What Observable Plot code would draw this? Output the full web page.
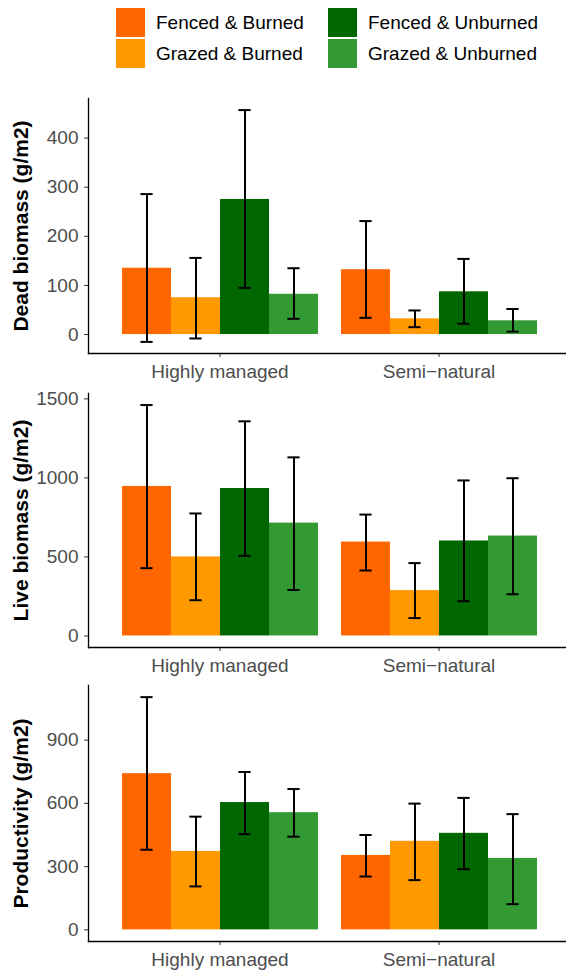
<!DOCTYPE html>
<html>
<head>
<meta charset="utf-8">
<script src="https://cdn.jsdelivr.net/npm/d3@7"></script>
<script src="https://cdn.jsdelivr.net/npm/@observablehq/plot@0.6"></script>
<style>
  body { margin: 0; background: #fff; font-family: "Liberation Sans", Arial, sans-serif; }
  #chart { width: 566px; }
  #legend { height: 93px; box-sizing: border-box; padding: 8px 0 0 116px;
    display: grid; grid-template-columns: 212px auto; grid-template-rows: 29px 29px;
    grid-auto-flow: column; row-gap: 2px; }
  .item { display: flex; align-items: center; font-size: 19px; color: #000; white-space: nowrap; }
  .sw { width: 29px; height: 29px; margin-right: 11px; flex: none; }
  .panel { position: relative; width: 566px; }
  .panel svg { display: block; position: absolute; left: 0; top: 0; }
  g[aria-label="y-axis label"] { font-weight: bold; font-size: 21px; fill: #000; }
  g[aria-label="y-axis tick label"], g[aria-label="x-axis tick label"] { fill: #4D4D4D; }
  g[aria-label="y-axis tick"], g[aria-label="x-axis tick"] { stroke: #333; }
</style>
</head>
<body>
<div id="chart"><div id="legend"></div></div>
<script>
const sites = ["Highly managed", "Semi\u2212natural"];
const treatments = ["Fenced & Burned", "Grazed & Burned", "Fenced & Unburned", "Grazed & Unburned"];
const colors = ["#FF6600", "#FF9900", "#006600", "#339933"];

// [Highly managed, Semi-natural] x treatments
const deadMean  = [[135, 75, 275, 82], [132, 32, 87, 28]];
const deadLower = [[-15, -8, 95, 32], [34, 15, 22, 6]];
const deadUpper = [[286, 156, 457, 135], [231, 49, 154, 52]];
const deadTicks = [0, 100, 200, 300, 400];

const liveMean  = [[946, 500, 933, 714], [594, 287, 601, 632]];
const liveLower = [[429, 226, 507, 291], [414, 113, 220, 264]];
const liveUpper = [[1461, 775, 1358, 1130], [768, 461, 984, 998]];
const liveTicks = [0, 500, 1000, 1500];

const prodMean  = [[741, 372, 604, 556], [353, 420, 458, 339]];
const prodLower = [[380, 206, 454, 442], [253, 236, 288, 122]];
const prodUpper = [[1104, 537, 749, 668], [450, 599, 626, 549]];
const prodTicks = [0, 300, 600, 900];

const chart = document.getElementById("chart");
const legend = document.getElementById("legend");
treatments.forEach((t, i) => {
  const it = document.createElement("div");
  it.className = "item";
  const sw = document.createElement("div");
  sw.className = "sw";
  sw.style.background = colors[i];
  it.appendChild(sw);
  const lab = document.createElement("span");
  lab.textContent = t;
  it.appendChild(lab);
  legend.appendChild(it);
});

const font = "Liberation Sans, Arial, sans-serif";

function panel(means, lowers, uppers, ticks, label, height, marginTop, marginBottom) {
  const data = [];
  sites.forEach((s, i) => treatments.forEach((t, j) => {
    data.push({site: s, treatment: t, mean: means[i][j], lower: lowers[i][j], upper: uppers[i][j]});
  }));
  const lo = Math.min(0, d3.min(data, d => d.lower));
  const hi = Math.max(d3.max(data, d => d.upper), d3.max(data, d => d.mean));
  const pad = (hi - lo) * 0.05;
  const common = {width: 566, height, marginTop, marginBottom, marginLeft: 88, marginRight: -4};
  const yDomain = [lo - pad, hi + pad];

  // axes layer: y axis, bottom category axis and the two axis lines
  const axes = Plot.plot({
    ...common,
    style: {fontFamily: font, fontSize: "19px", background: "#fff", overflow: "visible"},
    x: {type: "band", domain: sites, paddingInner: 0.1, paddingOuter: 0.15, label: null},
    y: {domain: yDomain},
    marks: [
      Plot.axisY({ticks, tickSize: 4, tickPadding: 6, fontSize: 19, tickFormat: d => String(d),
        label, labelAnchor: "center", labelArrow: "none", labelOffset: 75}),
      Plot.axisX({anchor: "bottom", tickSize: 4, tickPadding: 7, fontSize: 19, label: null}),
      Plot.frame({anchor: "left", stroke: "#000", strokeWidth: 1.3}),
      Plot.frame({anchor: "bottom", stroke: "#000", strokeWidth: 1.3})
    ]
  });

  // bars layer: dodged bars with error bars, faceted by site
  const bars = Plot.plot({
    ...common,
    style: {fontFamily: font, fontSize: "19px", background: "transparent", overflow: "visible"},
    fx: {domain: sites, paddingInner: 0.1, paddingOuter: 0.15, axis: null, label: null},
    x: {domain: treatments, padding: 0, axis: null},
    y: {domain: yDomain, axis: null},
    color: {domain: treatments, range: colors},
    marks: [
      Plot.barY(data, {fx: "site", x: "treatment", y: "mean", fill: "treatment"}),
      Plot.ruleX(data, {fx: "site", x: "treatment", y1: "lower", y2: "upper", stroke: "#000", strokeWidth: 2}),
      Plot.tickY(data, {fx: "site", x: "treatment", y: "lower", stroke: "#000", strokeWidth: 2, insetLeft: 18.4, insetRight: 18.4}),
      Plot.tickY(data, {fx: "site", x: "treatment", y: "upper", stroke: "#000", strokeWidth: 2, insetLeft: 18.4, insetRight: 18.4})
    ]
  });

  const div = document.createElement("div");
  div.className = "panel";
  div.style.height = height + "px";
  div.appendChild(axes);
  div.appendChild(bars);
  return div;
}

chart.appendChild(panel(deadMean, deadLower, deadUpper, deadTicks, "Dead biomass (g/m2)", 295, 5, 35));
chart.appendChild(panel(liveMean, liveLower, liveUpper, liveTicks, "Live biomass (g/m2)", 292, 5, 33));
chart.appendChild(panel(prodMean, prodLower, prodUpper, prodTicks, "Productivity (g/m2)", 290, 5, 29));
</script>
</body>
</html>
